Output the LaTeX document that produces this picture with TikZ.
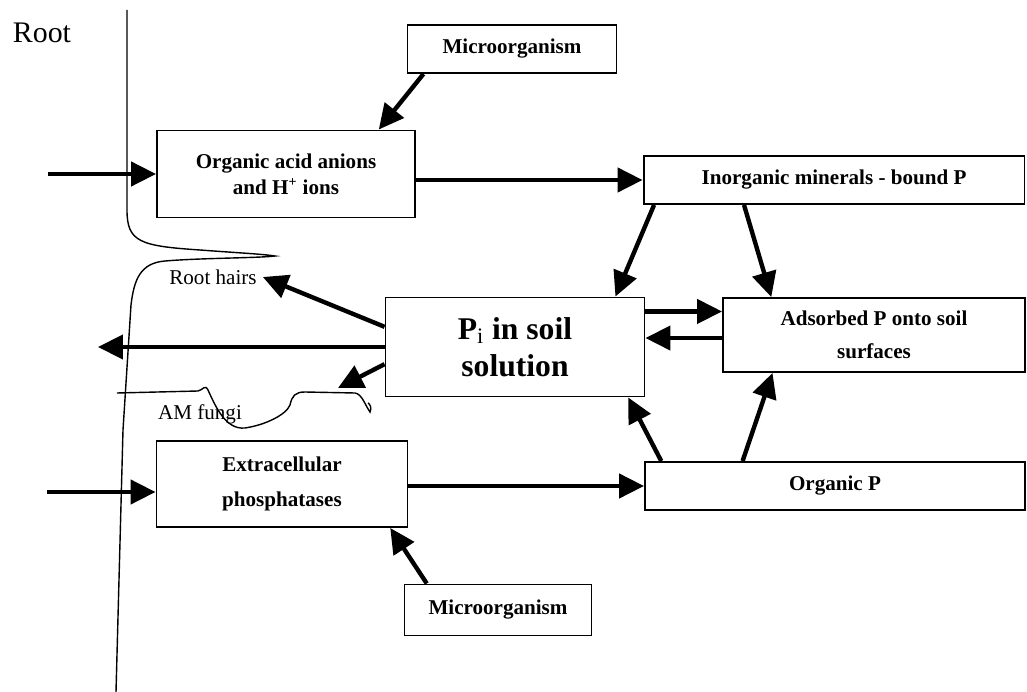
\documentclass[tikz,border=0pt]{standalone}
\usepackage{fontspec}
\setmainfont{Liberation Serif}
\usetikzlibrary{arrows.meta, calc}

\begin{document}
\begin{tikzpicture}[x=0.02cm, y=-0.02cm,
    box/.style={draw, line width=1.1pt, inner sep=0pt, align=center,
        font=\bfseries\fontsize{12}{14}\selectfont},
    arr/.style={line width=2.5pt, -{Triangle[length=0.5cm,width=0.48cm]}},
    rootline/.style={line width=0.8pt}]
    \useasboundingbox (0,0) rectangle (1027,692);

    % Root and root hairs
    \node[font=\fontsize{17}{20}\selectfont] (root) at (42,33) {Root};
    \draw[rootline] (127,10) -- (127,210)
        .. controls (127,242) and (140,246) .. (200,250)
        .. controls (240,253) and (262,254) .. (275,256)
        .. controls (260,258) and (200,258) .. (165,261)
        .. controls (140,263) and (134,280) .. (131,305)
        -- (123,430) -- (116,692);
    \node[font=\fontsize{12}{14}\selectfont] (rhairs) at (213,277) {Root hairs};

    % AM fungi
    \draw[rootline] (117,393) -- (198,391)
        .. controls (203,390) and (205,384) .. (208,390)
        .. controls (215,405) and (225,430) .. (245,428)
        .. controls (265,425) and (286,415) .. (290,405)
        .. controls (292,396) and (295,392) .. (305,392)
        -- (355,393)
        .. controls (362,394) and (365,405) .. (370,412)
        .. controls (372,408) and (370,404) .. (368,403);
    \node[font=\fontsize{12}{14}\selectfont] (fungi) at (200,414) {AM fungi};

    % Boxes
    \node[box, minimum width=4.18cm, minimum height=0.96cm] (micro1) at (512,49) {Microorganism};
    \node[box, minimum width=5.16cm, minimum height=1.74cm] (acid) at (286,174) {Organic acid anions\\[1pt]and H\textsuperscript{+} ions};
    \node[box, minimum width=7.62cm, minimum height=0.96cm] (inorg) at (834,180) {Inorganic minerals - bound P};
    \node[box, minimum width=5.18cm, minimum height=1.98cm,
        font=\bfseries\fontsize{18}{21}\selectfont] (pisol) at (515,347) {P$_\mathrm{i}$ in soil\\solution};
    \node[box, minimum width=6.04cm, minimum height=1.48cm] (adsorb) at (874,335) {Adsorbed P onto soil\\[5pt]surfaces};
    \node[box, minimum width=5.02cm, minimum height=1.72cm] (extra) at (282,484) {Extracellular\\[6pt]phosphatases};
    \node[box, minimum width=7.6cm, minimum height=0.96cm] (orgP) at (835,486) {Organic P};
    \node[box, minimum width=3.74cm, minimum height=1.02cm] (micro2) at (498,610) {Microorganism};

    % Free ends
    \coordinate (in1) at (48,174);
    \coordinate (in2) at (47,492);
    \coordinate (out1) at (98,350);
    \coordinate (fungitip) at (338,388);

    % Flows
    \draw[arr] (in1) -- (acid.west);
    \draw[arr] (in2) -- (in2 -| extra.west);
    \draw[arr] ($(micro1.south west)!0.08!(micro1.south east)$) -- ($(acid.north west)!0.857!(acid.north east)$);
    \draw[arr] (acid.east |- inorg.west) -- (inorg.west);
    \draw[arr] ($(inorg.south west)!0.03!(inorg.south east)$) -- ($(pisol.north west)!0.885!(pisol.north east)$);
    \draw[arr] ($(inorg.south west)!0.265!(inorg.south east)$) -- ($(adsorb.north west)!0.162!(adsorb.north east)$);
    \coordinate (a1) at ($(adsorb.north west)!0.19!(adsorb.south west)$);
    \coordinate (a2) at ($(adsorb.north west)!0.54!(adsorb.south west)$);
    \draw[arr] (pisol.east |- a1) -- (a1);
    \draw[arr] (a2) -- (pisol.east |- a2);
    \draw[arr] ($(pisol.north west)!0.3!(pisol.south west)$) -- (rhairs.east);
    \draw[arr] (pisol.west) -- (out1 |- pisol.west);
    \draw[arr] ($(pisol.north west)!0.67!(pisol.south west)$) -- (fungitip);
    \draw[arr] ($(orgP.north west)!0.045!(orgP.north east)$) -- ($(pisol.south west)!0.934!(pisol.south east)$);
    \draw[arr] ($(orgP.north west)!0.258!(orgP.north east)$) -- ($(adsorb.south west)!0.166!(adsorb.south east)$);
    \draw[arr] (extra.east |- orgP.west) -- (orgP.west);
    \draw[arr] ($(micro2.north west)!0.123!(micro2.north east)$) -- ($(extra.south west)!0.928!(extra.south east)$);
\end{tikzpicture}
\end{document}
